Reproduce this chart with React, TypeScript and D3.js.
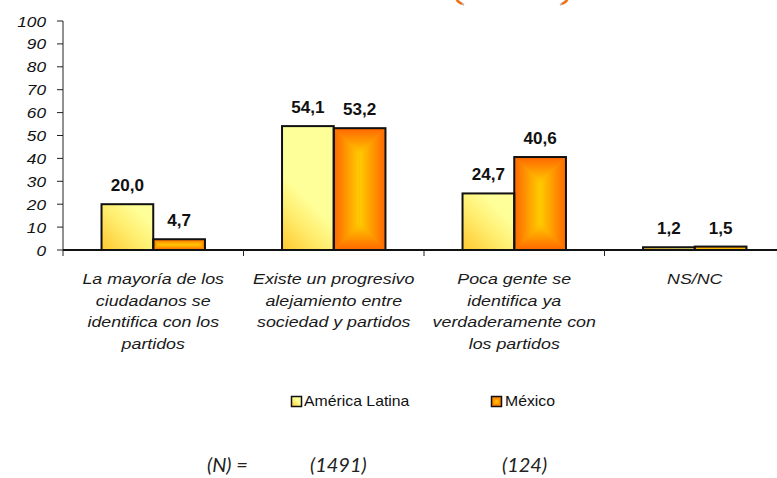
import React from 'react';
import * as d3 from 'd3';

const categories = ['cat1', 'cat2', 'cat3', 'cat4'];
const categoryLines = [
  ['La mayoría de los', 'ciudadanos se', 'identifica con los', 'partidos'],
  ['Existe un progresivo', 'alejamiento entre', 'sociedad y partidos'],
  ['Poca gente se', 'identifica ya', 'verdaderamente con', 'los partidos'],
  ['NS/NC'],
];
const seriesNames = ['América Latina', 'México'];
const americaLatina = [20.0, 54.1, 24.7, 1.2];
const mexico = [4.7, 53.2, 40.6, 1.5];
const yTicks = [0, 10, 20, 30, 40, 50, 60, 70, 80, 90, 100];
const nLabel = '(N) =';
const sampleSizes = ['(1491)', '(124)'];

const W = 777;
const H = 478;

const fmt = (v: number) => d3.format('.1f')(v).replace('.', ',');

function rectGradPolys(x: number, y: number, w: number, h: number) {
  const r = Math.min(w, h) / 2;
  return [
    { pts: [[x, y], [x + r, y + r], [x + r, y + h - r], [x, y + h]], fill: 'url(#mxL)' },
    { pts: [[x + w, y], [x + w - r, y + r], [x + w - r, y + h - r], [x + w, y + h]], fill: 'url(#mxR)' },
    { pts: [[x, y], [x + w, y], [x + w - r, y + r], [x + r, y + r]], fill: 'url(#mxT)' },
    { pts: [[x, y + h], [x + w, y + h], [x + w - r, y + h - r], [x + r, y + h - r]], fill: 'url(#mxB)' },
  ];
}

function ST(props: {
  x: number; y: number; sx: number; anchor?: string; size: number; weight?: string | number;
  italic?: boolean; family?: string; fill?: string; children: React.ReactNode;
}) {
  const { x, y, sx, anchor = 'start', size, weight = 'normal', italic = false, family = "'Liberation Sans', Arial, sans-serif", fill = '#111', children } = props;
  return (
    <text
      transform={`translate(${x},${y}) scale(${sx},1)`}
      textAnchor={anchor}
      fontSize={size}
      fontWeight={weight}
      fontStyle={italic ? 'italic' : 'normal'}
      fontFamily={family}
      fill={fill}
    >
      {children}
    </text>
  );
}

export default function App() {
  const x0 = d3.scaleBand<string>().domain(categories).range([63, 785]).paddingInner(0).paddingOuter(0);
  const x1 = d3.scaleBand<string>().domain(seriesNames).range([0, x0.bandwidth()]).paddingInner(0).paddingOuter(0.745);
  const y = d3.scaleLinear().domain([0, 100]).range([250, 21]);
  const bw = x1.bandwidth();

  const boundaries = categories.map((c) => x0(c) as number);

  return (
    <svg width={W} height={H} style={{ position: 'absolute', left: 0, top: 0, background: '#fff' }}>
      <defs>
        <linearGradient id="mxL" x1="0" y1="0" x2="1" y2="0">
          <stop offset="0" stopColor="#FF6600" />
          <stop offset="1" stopColor="#FFCC00" />
        </linearGradient>
        <linearGradient id="mxR" x1="0" y1="0" x2="1" y2="0">
          <stop offset="0" stopColor="#FFCC00" />
          <stop offset="1" stopColor="#FF6600" />
        </linearGradient>
        <linearGradient id="mxT" x1="0" y1="0" x2="0" y2="1">
          <stop offset="0" stopColor="#FF6600" />
          <stop offset="1" stopColor="#FFCC00" />
        </linearGradient>
        <linearGradient id="mxB" x1="0" y1="0" x2="0" y2="1">
          <stop offset="0" stopColor="#FFCC00" />
          <stop offset="1" stopColor="#FF6600" />
        </linearGradient>
        <linearGradient id="alLeg" x1="0" y1="1" x2="1" y2="0">
          <stop offset="0" stopColor="#FFC830" />
          <stop offset="0.6" stopColor="#FFFF99" />
        </linearGradient>
        {americaLatina.map((v, i) => {
          const bx = (x0(categories[i]) as number) + (x1(seriesNames[0]) as number);
          const by = y(v);
          const bh = y(0) - by;
          return (
            <linearGradient key={i} id={`al-${i}`} gradientUnits="userSpaceOnUse"
              x1={bx} y1={by + bh} x2={bx + bw} y2={by + bh - bw}>
              <stop offset="0" stopColor="#FFC830" />
              <stop offset="0.45" stopColor="#FFEE70" />
              <stop offset="0.75" stopColor="#FFFF99" />
            </linearGradient>
          );
        })}
      </defs>

      {/* top orange marks */}
      <path d="M458,0 Q460,3 464,5" stroke="#BBB" strokeWidth={2} fill="none" />
      <path d="M456.5,0 Q458.5,2.5 462,4" stroke="#FF6600" strokeWidth={2.2} fill="none" />
      <path d="M566,0 Q564,3 560,5" stroke="#BBB" strokeWidth={2} fill="none" />
      <path d="M567.5,0 Q565.5,2.5 562,4" stroke="#FF6600" strokeWidth={2.2} fill="none" />

      {/* y axis */}
      <line x1={63} x2={63} y1={y(100)} y2={y(0)} stroke="#222" strokeWidth={1} />
      {yTicks.map((t) => (
        <g key={t}>
          <line x1={57} x2={63} y1={y(t)} y2={y(t)} stroke="#222" strokeWidth={1} />
          <ST x={46} y={y(t) + 5.5} sx={1.15} anchor="end" size={15} italic>{t}</ST>
        </g>
      ))}

      {/* bars */}
      {categories.map((c, i) => {
        const gx = x0(c) as number;
        const ax = gx + (x1(seriesNames[0]) as number);
        const ay = y(americaLatina[i]);
        const ah = y(0) - ay;
        const mx = gx + (x1(seriesNames[1]) as number);
        const my = y(mexico[i]);
        const mh = y(0) - my;
        return (
          <g key={c}>
            <rect x={ax} y={ay} width={bw} height={ah} fill={`url(#al-${i})`} />
            <rect x={mx} y={my} width={bw} height={mh} fill="#FF9900" />
            {rectGradPolys(mx, my, bw, mh).map((p, k) => (
              <polygon key={k} points={p.pts.map((q) => q.join(',')).join(' ')} fill={p.fill} />
            ))}
            <rect x={ax} y={ay} width={bw} height={ah} fill="none" stroke="#111" strokeWidth={2} />
            <rect x={mx} y={my} width={bw} height={mh} fill="none" stroke="#111" strokeWidth={2} />
            <ST x={ax + bw / 2} y={ay - 13} sx={1.07} anchor="middle" size={16} weight="bold">{fmt(americaLatina[i])}</ST>
            <ST x={mx + bw / 2} y={my - 13} sx={1.07} anchor="middle" size={16} weight="bold">{fmt(mexico[i])}</ST>
          </g>
        );
      })}

      {/* x axis */}
      <line x1={63} x2={W} y1={y(0)} y2={y(0)} stroke="#111" strokeWidth={2} />
      {boundaries.map((b, i) => (
        <line key={i} x1={b} x2={b} y1={y(0)} y2={y(0) + 6} stroke="#222" strokeWidth={1} />
      ))}

      {/* category labels */}
      {categories.map((c, i) => {
        const cx = (x0(c) as number) + x0.bandwidth() / 2;
        return (
          <g key={c}>
            {categoryLines[i].map((line, k) => (
              <ST key={k} x={cx} y={284 + k * 21.5} sx={1.15} anchor="middle" size={15.5} italic fill="#1a1a1a">{line}</ST>
            ))}
          </g>
        );
      })}

      {/* legend */}
      <rect x={291.5} y={396.5} width={10} height={10} fill="url(#alLeg)" stroke="#111" strokeWidth={1.5} />
      <ST x={304} y={406} sx={1.13} size={14}>{seriesNames[0]}</ST>
      <rect x={491.5} y={396.5} width={10} height={10} fill="#FF9900" />
      {rectGradPolys(491.5, 396.5, 10, 10).map((p, k) => (
        <polygon key={k} points={p.pts.map((q) => q.join(',')).join(' ')} fill={p.fill} />
      ))}
      <rect x={491.5} y={396.5} width={10} height={10} fill="none" stroke="#111" strokeWidth={1.5} />
      <ST x={505} y={406} sx={1.13} size={14}>{seriesNames[1]}</ST>

      {/* sample sizes */}
      <ST x={207} y={472} sx={1} size={20} italic family="Lato, 'Open Sans', sans-serif" fill="#222">{nLabel}</ST>
      <ST x={310} y={472} sx={1} size={20} italic family="Lato, 'Open Sans', sans-serif" fill="#222">{sampleSizes[0]}</ST>
      <ST x={502} y={472} sx={1} size={20} italic family="Lato, 'Open Sans', sans-serif" fill="#222">{sampleSizes[1]}</ST>
    </svg>
  );
}
